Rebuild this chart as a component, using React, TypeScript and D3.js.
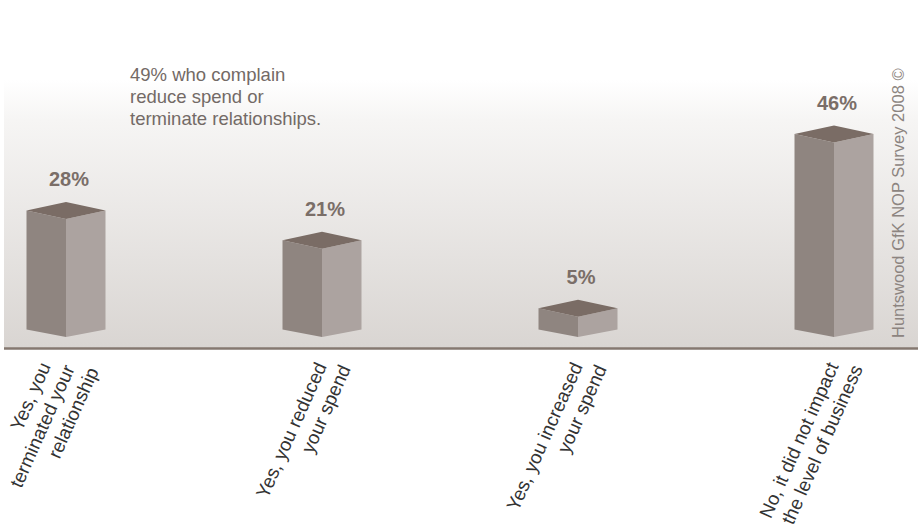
import React from "react";
import * as d3 from "d3";

const categories = [
  ["Yes, you", "terminated your", "relationship"],
  ["Yes, you reduced", "your spend"],
  ["Yes, you increased", "your spend"],
  ["No, it did not impact", "the level of business"],
];
const values = [28, 21, 5, 46];
const valueLabels = ["28%", "21%", "5%", "46%"];
const noteLines = ["49% who complain", "reduce spend or", "terminate relationships."];
const sourceText = "Huntswood GfK NOP Survey 2008 ©";

const W = 918;
const H = 532;
const FONT = "'Liberation Sans', Arial, Helvetica, sans-serif";

export default function App() {
  const keys = categories.map((c) => c.join(" "));
  const x = d3.scalePoint<string>().domain(keys).range([66, 834]);
  const y = d3.scaleLinear().domain([0, 50]).range([329.5, 117]);
  const half = 39.5;
  const depth = 8.5;
  const base = y(0);

  return (
    <svg
      width={W}
      height={H}
      style={{ position: "absolute", left: 0, top: 0 }}
      fontFamily={FONT}
    >
      <defs>
        <linearGradient id="bg" x1="0" y1="0" x2="0" y2="1">
          <stop offset="0" stopColor="#ffffff" />
          <stop offset="0.15" stopColor="#f6f5f4" />
          <stop offset="1" stopColor="#d9d5d2" />
        </linearGradient>
      </defs>
      <rect x={0} y={0} width={W} height={H} fill="#ffffff" />
      <rect x={4} y={80} width={W - 4} height={268} fill="url(#bg)" />
      <line x1={4} x2={W} y1={348.5} y2={348.5} stroke="#857870" strokeWidth={2.6} />

      {values.map((v, i) => {
        const cx = x(keys[i]) as number;
        const top = y(v);
        const left = `${cx - half},${top} ${cx},${top + depth} ${cx},${base + 7.5} ${cx - half},${base}`;
        const right = `${cx},${top + depth} ${cx + half},${top} ${cx + half},${base} ${cx},${base + 7.5}`;
        const cap = `${cx - half},${top} ${cx},${top - depth} ${cx + half},${top} ${cx},${top + depth}`;
        return (
          <g key={i}>
            <polygon points={left} fill="#8f8580" />
            <polygon points={right} fill="#aca3a0" />
            <polygon points={cap} fill="#7a6c65" />
            <text
              x={cx + 3}
              y={top - depth - 16}
              textAnchor="middle"
              fontSize={20}
              fontWeight="bold"
              fill="#7a6e68"
            >
              {valueLabels[i]}
            </text>
          </g>
        );
      })}

      {categories.map((lines, i) => {
        const cx = x(keys[i]) as number;
        const x0 = cx + 5 - (lines.length - 2) * 20;
        return (
          <g key={i}>
            {lines.map((ln, j) => {
              const lx = x0 + j * 24;
              const ly = 366 + j * 2.5;
              return (
                <text
                  key={j}
                  x={lx}
                  y={ly}
                  textAnchor="end"
                  fontSize={19}
                  fill="#333333"
                  transform={`rotate(-66 ${lx} ${ly})`}
                >
                  {ln}
                </text>
              );
            })}
          </g>
        );
      })}

      {noteLines.map((ln, i) => (
        <text key={i} x={130} y={81 + i * 22} fontSize={18.5} fill="#736a66">
          {ln}
        </text>
      ))}

      <text
        x={904}
        y={338}
        fontSize={16.5}
        fill="#8c8480"
        transform="rotate(-90 904 338)"
      >
        {sourceText}
      </text>
    </svg>
  );
}
